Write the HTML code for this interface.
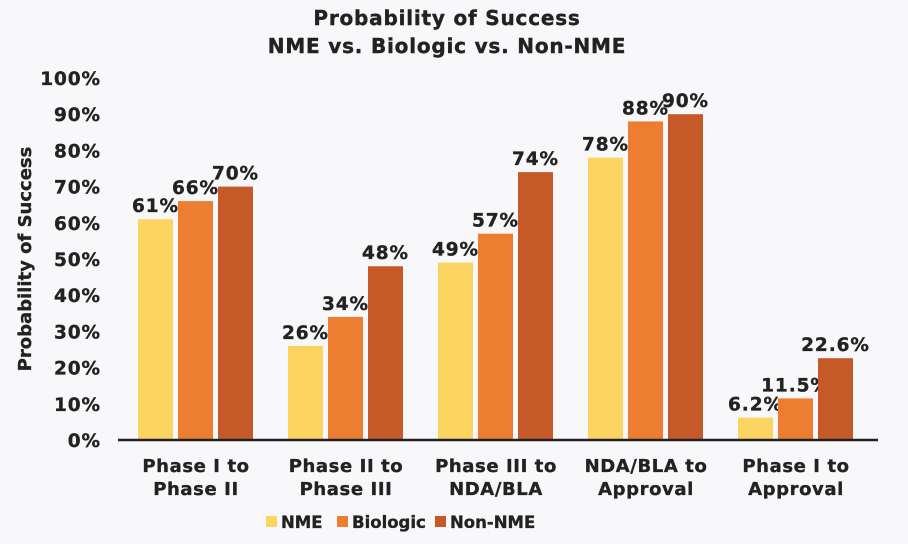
<!DOCTYPE html>
<html><head><meta charset="utf-8"><style>
body{margin:0;background:#f8f8fa;}
svg{display:block;font-family:"DejaVu Sans","Liberation Sans",sans-serif;font-weight:bold;}
</style></head><body>
<svg id="c" width="908" height="544" viewBox="0 0 908 544">
<rect width="908" height="544" fill="#f8f8fa"/>
<text x="447" y="25" text-anchor="middle" font-size="20" letter-spacing="0.8" fill="#222" stroke="#222" stroke-width="0.4">Probability of Success</text>
<text x="447" y="53" text-anchor="middle" font-size="20" letter-spacing="0.8" fill="#222" stroke="#222" stroke-width="0.4">NME vs. Biologic vs. Non-NME</text>
<text transform="translate(31,259) rotate(-90)" text-anchor="middle" font-size="18" fill="#222" stroke="#222" stroke-width="0.3">Probability of Success</text>
<g id="g"></g>
</svg>
<script>
const categories=[["Phase I to","Phase II"],["Phase II to","Phase III"],["Phase III to","NDA/BLA"],["NDA/BLA to","Approval"],["Phase I to","Approval"]];
const seriesNames=["NME","Biologic","Non-NME"];
const nme=[61,26,49,78,6.2];
const biologic=[66,34,57,88,11.5];
const nonNme=[70,48,74,90,22.6];
const labelsNme=["61%","26%","49%","78%","6.2%"];
const labelsBio=["66%","34%","57%","88%","11.5%"];
const labelsNon=["70%","48%","74%","90%","22.6%"];
const ticks=[0,10,20,30,40,50,60,70,80,90,100];
const colors=["#fcd462","#ed7d31","#c55a28"];
const NS="http://www.w3.org/2000/svg";
const g=document.getElementById('g');
const y=v=>440-v*3.62;
const gx=i=>196+i*150;
function mk(t,a){const e=document.createElementNS(NS,t);for(const k in a)e.setAttribute(k,a[k]);g.appendChild(e);return e;}
const bold={fill:'#222',stroke:'#222','stroke-width':0.35};
ticks.forEach(t=>{const e=mk('text',Object.assign({x:101,y:y(t)+7,'text-anchor':'end','font-size':18.5,'letter-spacing':0.9},bold));e.textContent=t+'%';

});
const data=[nme,biologic,nonNme],labs=[labelsNme,labelsBio,labelsNon];
data.forEach((s,si)=>s.forEach((v,i)=>{
const x=gx(i)-58+si*40;
const r=mk('rect',{x:x,y:y(v),width:35,height:440-y(v),fill:colors[si]});


const t=mk('text',Object.assign({x:x+17.5,y:y(v)-7,'text-anchor':'middle','font-size':18.5,'letter-spacing':0.9},bold));t.textContent=labs[si][i];


}));
const ax=mk('line',{x1:118,x2:878,y1:440,y2:440,stroke:'#222','stroke-width':2.5});


categories.forEach((c,i)=>c.forEach((l,j)=>{const t=mk('text',Object.assign({x:gx(i),y:472+j*23,'text-anchor':'middle','font-size':18,'letter-spacing':0.6},bold));t.textContent=l;

}));
const lx=[266,337,435];
seriesNames.forEach((n,i)=>{const r=mk('rect',{x:lx[i],y:516,width:11,height:11,fill:colors[i]});


const t=mk('text',Object.assign({x:lx[i]+15,y:528,'font-size':16.5},bold));t.textContent=n;

});
</script>
</body></html>
